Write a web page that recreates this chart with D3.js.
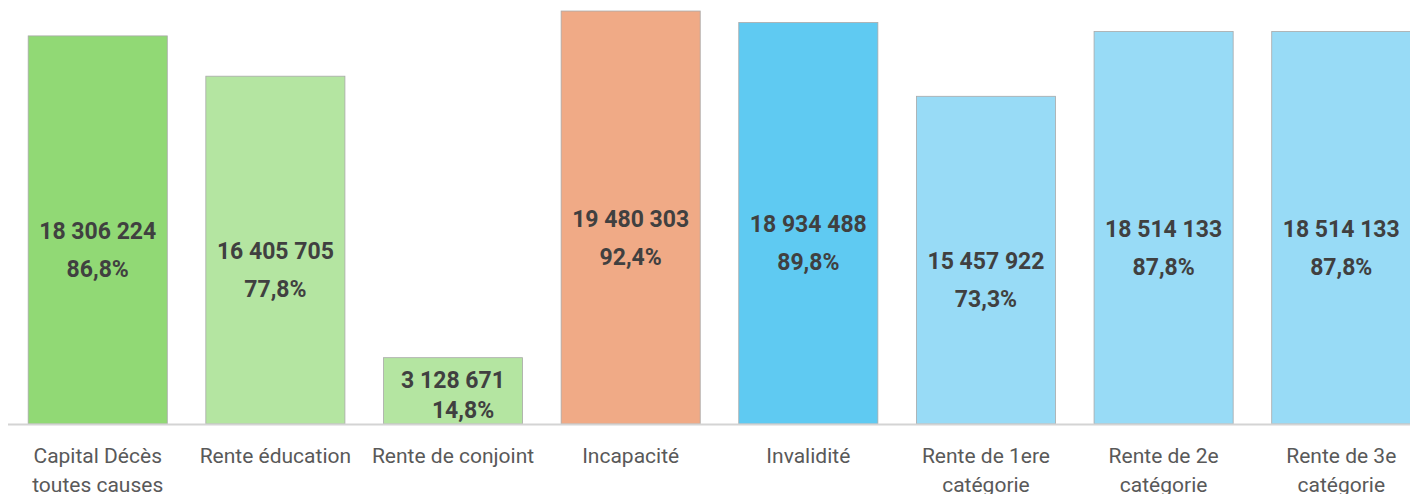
<!DOCTYPE html>
<html>
<head>
<meta charset="utf-8">
<script src="https://cdn.jsdelivr.net/npm/d3@7"></script>
<style>
  body { margin: 0; background: #fff; }
  svg { display: block; }
</style>
</head>
<body>
<div id="chart"></div>
<script>
// data
const categories = [
  ["Capital Décès", "toutes causes"],
  ["Rente éducation"],
  ["Rente de conjoint"],
  ["Incapacité"],
  ["Invalidité"],
  ["Rente de 1ere", "catégorie"],
  ["Rente de 2e", "catégorie"],
  ["Rente de 3e", "catégorie"]
];
const amounts = [18306224, 16405705, 3128671, 19480303, 18934488, 15457922, 18514133, 18514133];
const percents = ["86,8%", "77,8%", "14,8%", "92,4%", "89,8%", "73,3%", "87,8%", "87,8%"];
const groups = ["deces", "deces", "deces", "incap", "inval", "inval2", "inval2", "inval2"];

const colors = {
  deces: ["#91D975", "#B4E5A1", "#B4E5A1"],
  incap: "#F0AA86",
  inval: "#5FCAF2",
  inval2: "#98DBF6"
};

const W = 1410, H = 494;
const baseY = 424;

const svg = d3.select("#chart")
  .append("svg")
  .attr("width", W)
  .attr("height", H);

const x = d3.scaleBand()
  .domain(d3.range(amounts.length))
  .range([9, 1430])
  .paddingInner(0.217)
  .paddingOuter(0.108);

const y = d3.scaleLinear()
  .domain([0, 20000000])
  .range([baseY, 0]);

const fmt = v => d3.format(",")(v).replace(/,/g, " ");

function barColor(i) {
  const g = groups[i];
  if (g === "deces") return colors.deces[i];
  return colors[g];
}

// bars
svg.append("g")
  .selectAll("rect")
  .data(amounts)
  .enter()
  .append("rect")
  .attr("x", (d, i) => x(i))
  .attr("y", d => y(d))
  .attr("width", x.bandwidth())
  .attr("height", d => baseY - y(d))
  .attr("fill", (d, i) => barColor(i))
  .attr("stroke", "#A9A9A9")
  .attr("stroke-width", 0.8);

// axis line
svg.append("line")
  .attr("x1", 8)
  .attr("x2", W)
  .attr("y1", baseY + 0.5)
  .attr("y2", baseY + 0.5)
  .attr("stroke", "#D4D4D4")
  .attr("stroke-width", 2);

// value labels (two lines inside each bar)
const labels = svg.append("g")
  .attr("font-family", "Roboto, 'Liberation Sans', sans-serif")
  .attr("font-weight", "bold")
  .attr("font-size", 23)
  .attr("fill", "#404040")
  .attr("text-anchor", "middle");

amounts.forEach((v, i) => {
  const cx = x(i) + x.bandwidth() / 2;
  const h = baseY - y(v);
  let y1, y2;
  if (h < 100) {
    y1 = baseY - h / 2 - 11;
    y2 = y1 + 30;
  } else {
    y1 = y(v) + h / 2 + 1;
    y2 = y1 + 38;
  }
  labels.append("text")
    .attr("x", cx)
    .attr("y", y1)
    .attr("dy", "0.35em")
    .text(fmt(v));
  labels.append("text")
    .attr("x", cx + (h < 100 ? 10 : 0))
    .attr("y", y2)
    .attr("dy", "0.35em")
    .text(percents[i]);
});

// category labels
const cats = svg.append("g")
  .attr("font-family", "Roboto, 'Liberation Sans', sans-serif")
  .attr("font-size", 21)
  .attr("fill", "#595959")
  .attr("text-anchor", "middle");

categories.forEach((lines, i) => {
  const t = cats.append("text")
    .attr("x", x(i) + x.bandwidth() / 2)
    .attr("y", 463);
  lines.forEach((l, k) => {
    t.append("tspan")
      .attr("x", x(i) + x.bandwidth() / 2)
      .attr("dy", k === 0 ? 0 : 28.5)
      .text(l);
  });
});
</script>
</body>
</html>
